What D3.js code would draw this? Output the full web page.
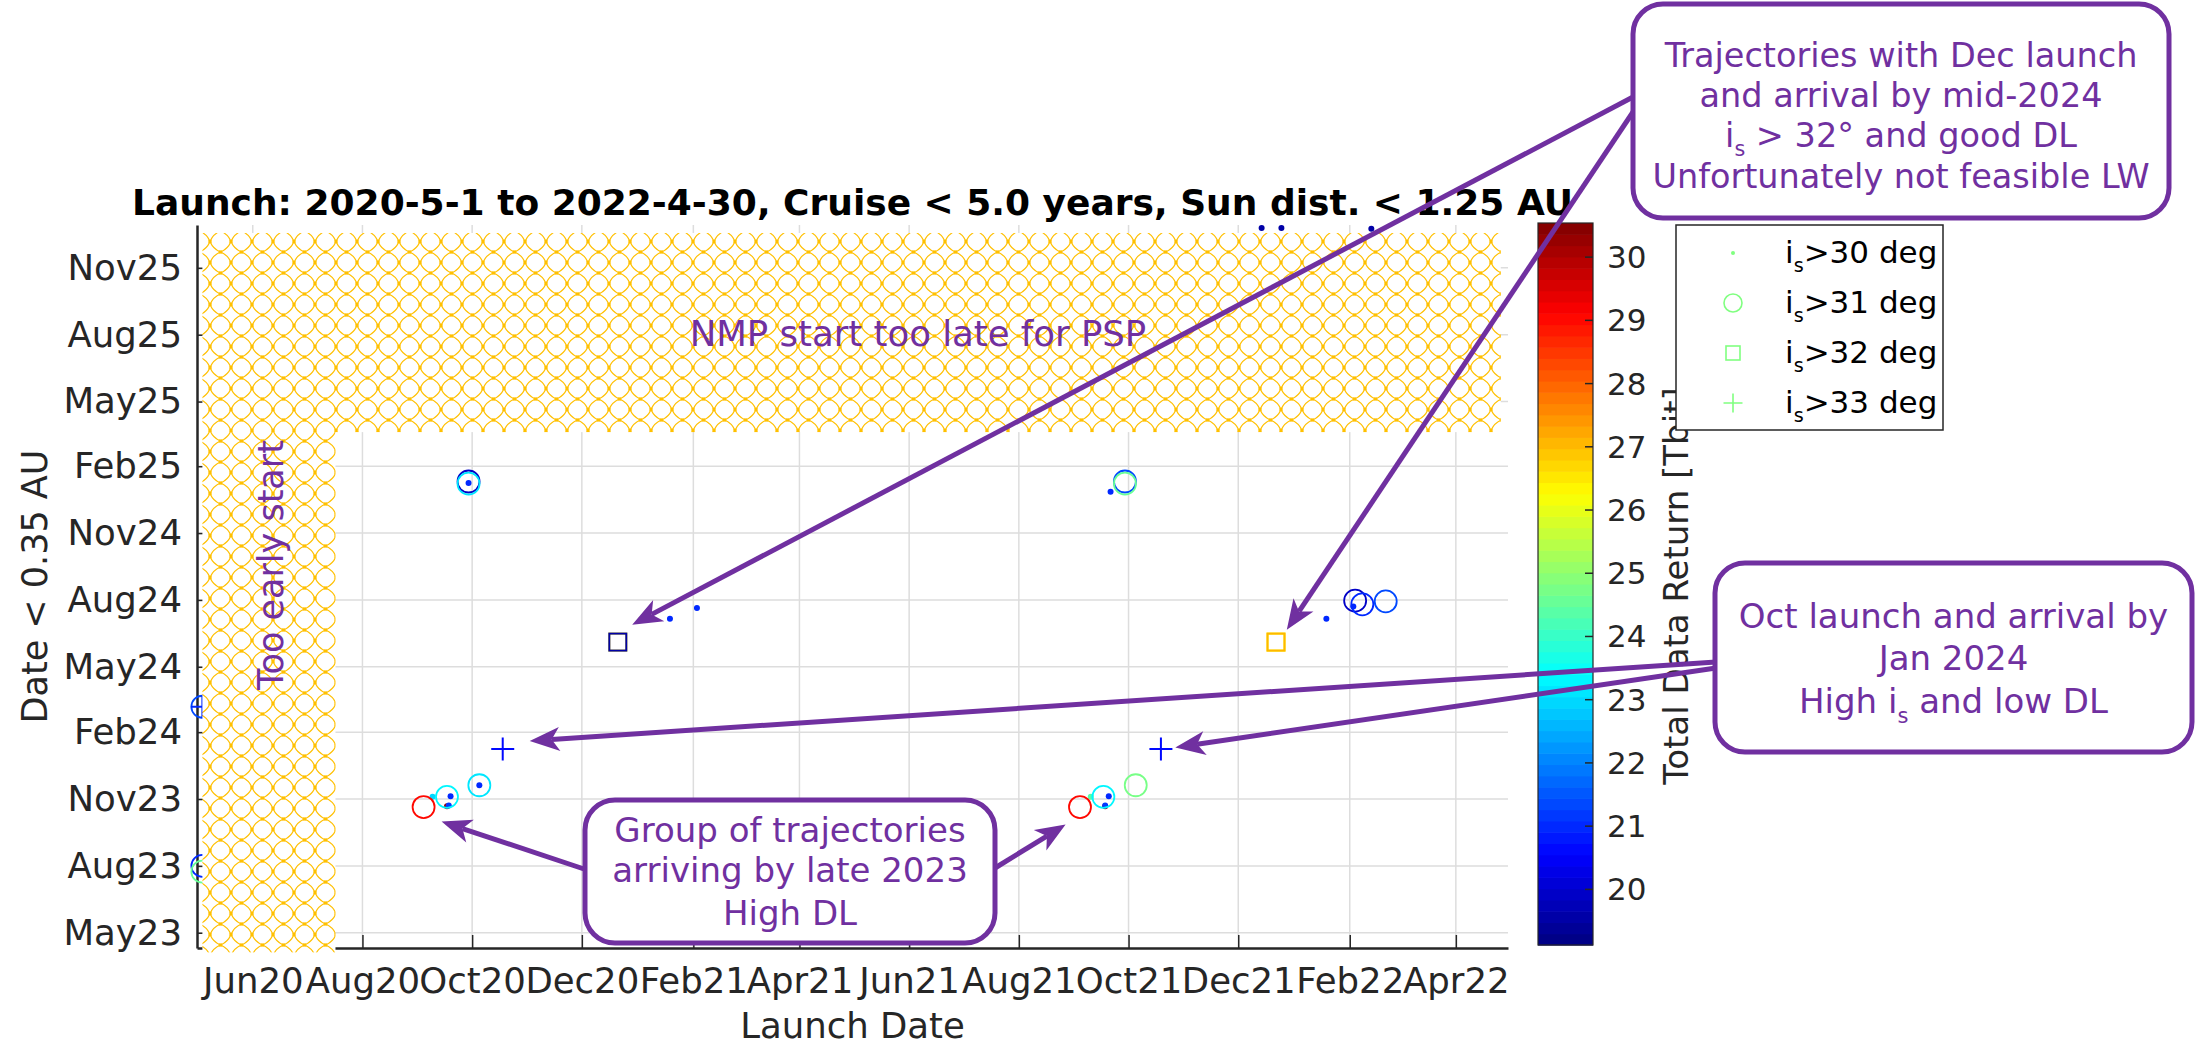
<!DOCTYPE html>
<html>
<head>
<meta charset="utf-8">
<script src="https://cdn.jsdelivr.net/npm/d3@7"></script>
<style>
  body { margin: 0; background: #fff; }
</style>
</head>
<body>
<div id="chart"></div>
<script>
// one entry per plotted marker: launch date, arrival (< 0.35 AU) date, data return [Tbit], i_s class (> deg)
const launchDates = [
  "2020-09-04", "2020-09-17", "2020-09-19", "2020-09-09", "2020-09-17", "2020-09-18",
  "2020-10-05", "2020-10-05", "2020-10-18", "2020-12-21", "2020-12-21", "2021-01-19",
  "2021-02-03", "2020-09-29", "2020-09-29", "2020-09-29",
  "2021-09-04", "2021-09-17", "2021-09-20", "2021-09-10", "2021-09-18", "2021-09-18",
  "2021-10-05", "2021-10-19", "2021-12-22", "2021-12-22", "2022-01-19", "2022-02-04",
  "2022-02-08", "2022-02-21", "2022-02-03", "2021-09-29", "2021-09-29", "2021-09-21",
  "2020-05-04", "2020-05-04", "2020-05-04", "2020-05-04",
  "2021-12-14", "2021-12-25", "2022-02-13"
];
const arrivalDates = [
  "2023-10-21", "2023-11-04", "2023-11-05", "2023-11-04", "2023-10-22", "2023-10-23",
  "2023-11-20", "2023-11-20", "2024-01-09", "2024-06-04", "2024-06-04", "2024-07-06",
  "2024-07-21", "2025-01-11", "2025-01-08", "2025-01-09",
  "2023-10-21", "2023-11-04", "2023-11-05", "2023-11-04", "2023-10-22", "2023-10-23",
  "2023-11-20", "2024-01-09", "2024-06-04", "2024-06-04", "2024-07-06", "2024-07-31",
  "2024-07-26", "2024-07-30", "2024-07-23", "2025-01-11", "2025-01-08", "2024-12-28",
  "2024-03-07", "2024-03-07", "2023-08-01", "2023-07-24",
  "2025-12-26", "2025-12-26", "2025-12-25"
];
const dataReturn = [
  29.0, 23.3, 21.0, 23.0, 30.3, 21.2,
  23.1, 21.0, 20.6, 26.3, 19.6, 21.0,
  21.0, 20.0, 23.2, 21.0,
  29.0, 23.4, 21.0, 24.3, 30.3, 21.2,
  24.8, 20.6, 26.3, 27.0, 21.0, 20.0,
  21.0, 21.3, 21.0, 21.3, 24.5, 21.0,
  21.3, 21.0, 21.0, 24.5,
  19.6, 19.6, 19.6
];
const incClass = [
  31, 31, 30, 30, 30, 30,
  31, 30, 33, 32, 32, 30,
  30, 31, 31, 30,
  31, 31, 30, 30, 30, 30,
  31, 33, 32, 32, 30, 31,
  31, 31, 30, 31, 31, 30,
  31, 33, 31, 31,
  30, 30, 30
];

const launchTicks = ["2020-06-01", "2020-08-01", "2020-10-01", "2020-12-01", "2021-02-01", "2021-04-01",
  "2021-06-01", "2021-08-01", "2021-10-01", "2021-12-01", "2022-02-01", "2022-04-01"];
const arrivalTicks = ["2023-05-01", "2023-08-01", "2023-11-01", "2024-02-01", "2024-05-01", "2024-08-01",
  "2024-11-01", "2025-02-01", "2025-05-01", "2025-08-01", "2025-11-01"];
const launchRange = ["2020-05-01", "2022-04-30"];
const arrivalRange = ["2023-04-10", "2025-12-30"];
const colorRange = [19.12, 30.54];
const colorTicks = [20, 21, 22, 23, 24, 25, 26, 27, 28, 29, 30];
const legendClasses = [30, 31, 32, 33];

// excluded regions (hatched)
const tooLate = { launch: ["2020-05-04", "2022-04-26"], arrival: ["2025-03-20", "2025-12-19"] };
const tooEarly = { launch: ["2020-05-04", "2020-07-17"], arrival: ["2023-04-04", "2025-03-20"] };

const W = 2202, H = 1045;
const margin = { top: 225, right: 694, bottom: 97, left: 197 };
const plotR = W - margin.right, plotB = H - margin.bottom;
const purple = "#7030a0";
const axisCol = "#262626";
const font = "'DejaVu Sans', Verdana, sans-serif";
const tickFont = 35.5;

const parse = d3.utcParse("%Y-%m-%d");
const fmt = d3.utcFormat("%b%y");

const x = d3.scaleUtc().domain(launchRange.map(parse)).range([margin.left, plotR]);
const y = d3.scaleUtc().domain(arrivalRange.map(parse)).range([plotB, margin.top]);

function jet(t) {
  const c = v => Math.max(0, Math.min(1, v));
  return d3.rgb(255 * c(1.5 - Math.abs(4 * t - 3)), 255 * c(1.5 - Math.abs(4 * t - 2)), 255 * c(1.5 - Math.abs(4 * t - 1))).formatHex();
}
const nLevels = 64;
function colorOf(v) {
  let i = Math.floor((v - colorRange[0]) / (colorRange[1] - colorRange[0]) * nLevels);
  i = Math.max(0, Math.min(nLevels - 1, i));
  return jet((i + 0.5) / nLevels);
}

const svg = d3.select("#chart").append("svg")
  .attr("width", W).attr("height", H)
  .attr("font-family", font);

svg.append("rect").attr("width", W).attr("height", H).attr("fill", "#fff");

// hatch pattern: rounded diamonds meeting at crossing points
const T = 21, hT = T / 2, bulge = 2.2;
const pat = svg.append("defs").append("pattern")
  .attr("id", "hatch")
  .attr("patternUnits", "userSpaceOnUse")
  .attr("width", T).attr("height", T);
pat.append("rect").attr("width", T).attr("height", T).attr("fill", "#fff");
function diamond(cx, cy) {
  const m = hT / 2;
  return `M${cx},${cy - hT}` +
    `Q${cx + m + bulge},${cy - m - bulge} ${cx + hT},${cy}` +
    `Q${cx + m + bulge},${cy + m + bulge} ${cx},${cy + hT}` +
    `Q${cx - m - bulge},${cy + m + bulge} ${cx - hT},${cy}` +
    `Q${cx - m - bulge},${cy - m - bulge} ${cx},${cy - hT}Z`;
}
[[hT, hT], [-hT, hT], [T + hT, hT], [hT, -hT], [hT, T + hT]].forEach(([cx, cy]) => {
  pat.append("path").attr("d", diamond(cx, cy))
    .attr("fill", "none").attr("stroke", "#ffc000").attr("stroke-width", 1.2);
});
[[hT, 0], [0, hT], [T, hT], [hT, T]].forEach(([cx, cy]) => {
  pat.append("rect").attr("x", cx - 1.6).attr("y", cy - 1.6).attr("width", 3.2).attr("height", 3.2)
    .attr("fill", "#ffc000");
});

// grid
const grid = svg.append("g").attr("stroke", "#dddddd").attr("stroke-width", 1.5);
grid.selectAll(".gx").data(launchTicks).join("line")
  .attr("x1", d => x(parse(d))).attr("x2", d => x(parse(d)))
  .attr("y1", margin.top).attr("y2", plotB);
grid.selectAll(".gy").data(arrivalTicks).join("line")
  .attr("y1", d => y(parse(d))).attr("y2", d => y(parse(d)))
  .attr("x1", margin.left).attr("x2", plotR);

// axes
const xAxis = svg.append("g")
  .attr("transform", `translate(0,${plotB})`)
  .call(d3.axisBottom(x).tickValues(launchTicks.map(parse)).tickFormat(fmt)
    .tickSize(-13).tickSizeOuter(0).tickPadding(45 - 0.71 * tickFont));
const yAxis = svg.append("g")
  .attr("transform", `translate(${margin.left},0)`)
  .call(d3.axisLeft(y).tickValues(arrivalTicks.map(parse)).tickFormat(fmt)
    .tickSize(-13).tickSizeOuter(0).tickPadding(15));
[xAxis, yAxis].forEach(a => {
  a.attr("font-family", font).attr("font-size", tickFont);
  a.select(".domain").attr("stroke", axisCol).attr("stroke-width", 2.5);
  a.selectAll(".tick line").attr("stroke", axisCol).attr("stroke-width", 1.5);
  a.selectAll(".tick text").attr("fill", axisCol);
});

// data markers
const symbolFor = {
  30: (g, col) => g.append("circle").attr("r", 3).attr("fill", col),
  31: (g, col) => g.append("circle").attr("r", 11).attr("fill", "none")
    .attr("stroke", col).attr("stroke-width", 1.8),
  32: (g, col) => g.append("rect").attr("x", -8.5).attr("y", -8.5).attr("width", 17).attr("height", 17)
    .attr("fill", "none").attr("stroke", col).attr("stroke-width", 2),
  33: (g, col) => g.append("path").attr("d", "M-11.5,0H11.5M0,-11.5V11.5")
    .attr("stroke", col).attr("stroke-width", 2)
};
const points = launchDates.map((d, i) => ({
  launch: parse(d), arrival: parse(arrivalDates[i]), dl: dataReturn[i], cls: incClass[i]
}));
const dataG = svg.append("g");
legendClasses.forEach(c => {
  points.filter(p => p.cls === c).forEach(p => {
    const g = dataG.append("g").attr("transform", `translate(${x(p.launch)},${y(p.arrival)})`);
    symbolFor[c](g, colorOf(p.dl));
  });
});

// hatched regions
[tooLate, tooEarly].forEach(r => {
  const x0 = x(parse(r.launch[0])), x1 = x(parse(r.launch[1]));
  const y0 = y(parse(r.arrival[1])), y1 = y(parse(r.arrival[0]));
  svg.append("rect").attr("x", x0).attr("y", y0).attr("width", x1 - x0).attr("height", y1 - y0)
    .attr("fill", "url(#hatch)");
});

svg.append("text").attr("x", 918).attr("y", 346).attr("text-anchor", "middle")
  .attr("font-size", 35.5).attr("fill", purple).text("NMP start too late for PSP");
svg.append("text").attr("transform", "translate(283,565) rotate(-90)").attr("text-anchor", "middle")
  .attr("font-size", 35).attr("fill", purple).text("Too early start");

// title and axis labels
svg.append("text").attr("x", (margin.left + plotR) / 2).attr("y", 215).attr("text-anchor", "middle")
  .attr("font-size", 36).attr("font-weight", "bold").attr("fill", "#000")
  .text("Launch: 2020-5-1 to 2022-4-30, Cruise < 5.0 years, Sun dist. < 1.25 AU");
svg.append("text").attr("x", (margin.left + plotR) / 2).attr("y", 1038).attr("text-anchor", "middle")
  .attr("font-size", 35.5).attr("fill", axisCol).text("Launch Date");
svg.append("text").attr("transform", `translate(47,${(margin.top + plotB) / 2}) rotate(-90)`)
  .attr("text-anchor", "middle").attr("font-size", 35).attr("fill", axisCol).text("Date < 0.35 AU");

// colorbar
const cbX = 1538, cbW = 55;
const cb = d3.scaleLinear().domain(colorRange).range([945, 223]);
const step = (colorRange[1] - colorRange[0]) / nLevels;
svg.append("g").selectAll("rect").data(d3.range(nLevels)).join("rect")
  .attr("x", cbX).attr("width", cbW)
  .attr("y", i => cb(colorRange[0] + (i + 1) * step))
  .attr("height", i => cb(colorRange[0] + i * step) - cb(colorRange[0] + (i + 1) * step) + 0.6)
  .attr("fill", i => jet((i + 0.5) / nLevels));
svg.append("rect").attr("x", cbX).attr("y", 223).attr("width", cbW).attr("height", 722)
  .attr("fill", "none").attr("stroke", axisCol).attr("stroke-width", 1.2);
const cbTicks = svg.append("g");
cbTicks.selectAll("line").data(colorTicks).join("line")
  .attr("x1", cbX + cbW - 8).attr("x2", cbX + cbW)
  .attr("y1", d => cb(d)).attr("y2", d => cb(d))
  .attr("stroke", axisCol).attr("stroke-width", 1.5);
cbTicks.selectAll("text").data(colorTicks).join("text")
  .attr("x", 1607).attr("y", d => cb(d) + 11)
  .attr("font-size", 31).attr("fill", axisCol).text(d => d);
svg.append("text").attr("transform", `translate(1688,586) rotate(-90)`).attr("text-anchor", "middle")
  .attr("font-size", 34).attr("fill", axisCol).text("Total Data Return [Tbit]");

// rich text with {sub} subscripts
function richText(sel, str, size) {
  const parts = str.split(/\{(.*?)\}/);
  parts.forEach((p, k) => {
    if (!p) return;
    if (k % 2) sel.append("tspan").attr("dy", size * 0.28).attr("font-size", size * 0.62).text(p);
    else sel.append("tspan").attr("dy", k ? -size * 0.28 : 0).text(p);
  });
}

// legend
const leg = svg.append("g");
leg.append("rect").attr("x", 1676).attr("y", 225).attr("width", 267).attr("height", 205)
  .attr("fill", "#fff").attr("stroke", axisCol).attr("stroke-width", 1.5);
const legendSymbol = {
  30: g => g.append("circle").attr("r", 2).attr("fill", jet(0.5)),
  31: g => g.append("circle").attr("r", 9).attr("fill", "none").attr("stroke", jet(0.5)).attr("stroke-width", 1.6),
  32: g => g.append("rect").attr("x", -7).attr("y", -7).attr("width", 14).attr("height", 14)
    .attr("fill", "none").attr("stroke", jet(0.5)).attr("stroke-width", 1.6),
  33: g => g.append("path").attr("d", "M-9.5,0H9.5M0,-9.5V9.5").attr("stroke", jet(0.5)).attr("stroke-width", 1.6)
};
legendClasses.forEach((c, i) => {
  const cy = 253 + i * 50;
  legendSymbol[c](leg.append("g").attr("transform", `translate(1733,${cy})`));
  richText(leg.append("text").attr("x", 1785).attr("y", cy + 10).attr("font-size", 31).attr("fill", "#000"),
    `i{s}>${c} deg`, 31);
});

// annotations
function head(from, to) {
  const dx = to[0] - from[0], dy = to[1] - from[1];
  const len = Math.hypot(dx, dy), ux = dx / len, uy = dy / len, nx = -uy, ny = ux;
  const L = 30, w = 12, notch = 8;
  const bx = to[0] - L * ux, by = to[1] - L * uy;
  return {
    poly: [[to[0], to[1]], [bx + w * nx, by + w * ny], [to[0] - (L - notch) * ux, to[1] - (L - notch) * uy], [bx - w * nx, by - w * ny]],
    end: [to[0] - (L - notch) * ux, to[1] - (L - notch) * uy]
  };
}
const arrows = [
  { from: [1633, 97], to: ["2020-12-29", "2024-06-28"] },
  { from: [1633, 112], to: ["2021-12-28", "2024-06-21"] },
  { from: [1716, 662], to: ["2020-11-02", "2024-01-20"] },
  { from: [1716, 668], to: ["2021-10-27", "2024-01-11"] },
  { from: [587, 870], to: ["2020-09-14", "2023-10-01"] },
  { from: [995, 868], to: ["2021-08-27", "2023-09-27"] }
];
const ann = svg.append("g");
arrows.forEach(a => {
  const tip = [x(parse(a.to[0])), y(parse(a.to[1]))];
  const h = head(a.from, tip);
  ann.append("line").attr("x1", a.from[0]).attr("y1", a.from[1]).attr("x2", h.end[0]).attr("y2", h.end[1])
    .attr("stroke", purple).attr("stroke-width", 5);
  ann.append("polygon").attr("points", h.poly.map(p => p.join(",")).join(" ")).attr("fill", purple);
});
const notes = [
  { box: [1633, 4, 536, 214], baselines: [67, 107, 147, 188], size: 33.5,
    lines: ["Trajectories with Dec launch", "and arrival by mid-2024", "i{s} > 32° and good DL", "Unfortunately not feasible LW"] },
  { box: [1715, 563, 477, 189], baselines: [628, 670, 713], size: 34,
    lines: ["Oct launch and arrival by", "Jan 2024", "High i{s} and low DL"] },
  { box: [585, 800, 410, 143], baselines: [842, 882, 925], size: 34,
    lines: ["Group of trajectories", "arriving by late 2023", "High DL"] }
];
notes.forEach(n => {
  const [bx, by, bw, bh] = n.box;
  ann.append("rect").attr("x", bx).attr("y", by).attr("width", bw).attr("height", bh)
    .attr("rx", 30).attr("fill", "#fff").attr("stroke", purple).attr("stroke-width", 5);
  n.lines.forEach((l, i) => {
    richText(ann.append("text").attr("x", bx + bw / 2).attr("y", n.baselines[i])
      .attr("text-anchor", "middle").attr("font-size", n.size).attr("fill", purple), l, n.size);
  });
});
</script>
</body>
</html>
